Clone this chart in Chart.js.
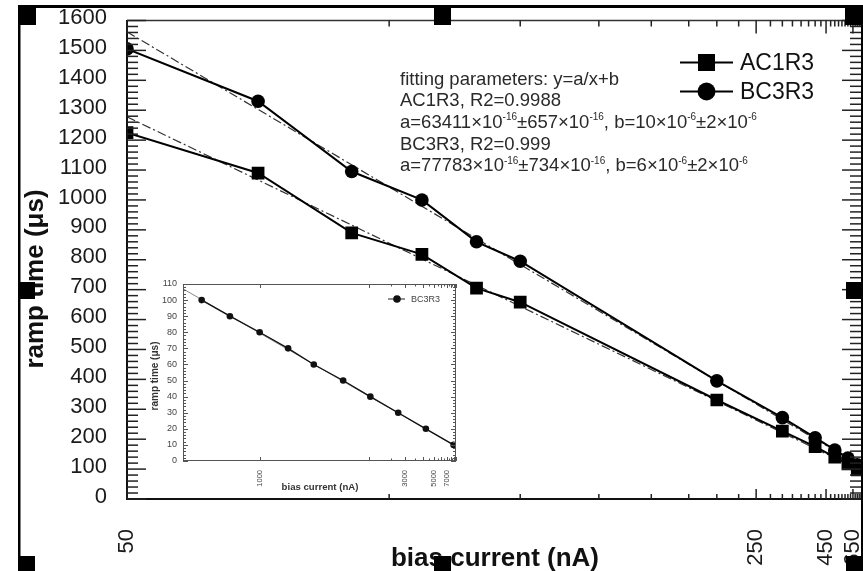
<!DOCTYPE html>
<html><head><meta charset="utf-8">
<script src="https://cdn.jsdelivr.net/npm/chart.js@4.4.0/dist/chart.umd.min.js"></script>
<style>
html,body{margin:0;padding:0;background:#fff;}
#wrap{position:relative;width:863px;height:571px;overflow:hidden;background:#fff;}
#main{position:absolute;left:0;top:0;}
#inset{position:absolute;left:140px;top:270px;}
</style></head><body>
<div id="wrap"><canvas id="main" width="863" height="571"></canvas><canvas id="inset" width="330" height="230"></canvas></div>
<script>
// ---------- data ----------
const biasCurrent = [50, 60, 70, 80, 90, 100, 200, 300, 400, 500, 600, 700];
const rampAC1R3   = [1225, 1090, 890, 818, 705, 658, 331, 227, 175, 140, 117, 97];
const rampBC3R3   = [1505, 1330, 1095, 1000, 860, 795, 395, 272, 205, 164, 137, 114];
const fitCurrent  = [50, 750];
const fitAC1R3    = [1278, 95];
const fitBC3R3    = [1562, 110];
const xTickLabels = [50, 250, 450, 650];
const yTickLabels = [0, 100, 200, 300, 400, 500, 600, 700, 800, 900, 1000, 1100, 1200, 1300, 1400, 1500, 1600];

const insetCurrent = [790, 880, 1000, 1150, 1330, 1620, 2030, 2740, 4200, 9000];
const insetRamp    = [100, 90, 80, 70, 60, 50, 40, 30, 20, 10];
const insetFitCurrent = [740, 10000];
const insetFitRamp    = [107, 9];
const insetXTickLabels = [1000, 3000, 5000, 7000];

const FONT = "'Liberation Sans', Arial, sans-serif";

// ---------- reciprocal (1/x) scale ----------
const LinearScale = Chart.LinearScale || Chart.registry.getScale('linear');
class ReciprocalScale extends LinearScale {
  buildTicks() { return []; }
  getPixelForValue(value) {
    if (value === null || value === undefined) return NaN;
    const a = 1 / this.min, b = 1 / this.max;
    return this.getPixelForDecimal((a - 1 / value) / (a - b));
  }
  getValueForPixel(pixel) {
    const a = 1 / this.min, b = 1 / this.max;
    const t = this.getDecimalForPixel(pixel);
    return 1 / (a - t * (a - b));
  }
}
ReciprocalScale.id = 'reciprocal';
ReciprocalScale.defaults = {};
Chart.register(ReciprocalScale);

function line(ctx, x1, y1, x2, y2) { ctx.beginPath(); ctx.moveTo(x1, y1); ctx.lineTo(x2, y2); ctx.stroke(); }

function drawRich(ctx, x, y, parts, size, supSize) {
  let cx = x;
  ctx.textBaseline = 'alphabetic';
  ctx.textAlign = 'left';
  for (const [txt, sup] of parts) {
    ctx.font = (sup ? supSize : size) + 'px ' + FONT;
    ctx.fillText(txt, cx, sup ? y - size * 0.42 : y);
    cx += ctx.measureText(txt).width;
  }
}

// ---------- main chart decorations ----------
const mainDeco = {
  id: 'mainDeco',
  beforeDraw(chart) {
    const ctx = chart.ctx;
    ctx.save(); ctx.fillStyle = '#fff'; ctx.fillRect(0, 0, chart.width, chart.height); ctx.restore();
  },
  afterDraw(chart) {
    const { ctx, chartArea: ca, scales: { x, y } } = chart;
    ctx.save();
    // plot box
    ctx.strokeStyle = '#333'; ctx.lineWidth = 1.5;
    line(ctx, ca.left, ca.top, ca.right, ca.top);
    ctx.strokeStyle = '#111'; ctx.lineWidth = 2;
    line(ctx, ca.left, ca.top - 0.5, ca.left, ca.bottom + 1);
    line(ctx, ca.left - 1, ca.bottom, ca.right, ca.bottom);
    // y ticks (inward), left and right
    ctx.lineWidth = 1.5; ctx.strokeStyle = '#222';
    for (let v = 0; v <= 1600; v += 20) {
      const py = y.getPixelForValue(v);
      const len = (v % 100 === 0) ? 19 : 11;
      line(ctx, ca.left, py, ca.left + len, py);
      line(ctx, ca.right, py, ca.right - len, py);
    }
    // x ticks (inward), bottom and top
    for (let v = 50; v <= 750; v += 25) {
      const px = x.getPixelForValue(v);
      const major = xTickLabels.includes(v);
      line(ctx, px, ca.bottom, px, ca.bottom - (major ? 10 : 5));
      line(ctx, px, ca.top, px, ca.top + (major ? 13 : 6));
    }
    // axis titles
    ctx.fillStyle = '#111';
    ctx.font = 'bold 26px ' + FONT;
    ctx.textAlign = 'center'; ctx.textBaseline = 'alphabetic';
    ctx.fillText('bias current (nA)', 495, 566);
    ctx.save(); ctx.translate(43, 279); ctx.rotate(-Math.PI / 2);
    ctx.fillText('ramp time (\u03bcs)', 0, 0); ctx.restore();
    // fitting annotation
    ctx.fillStyle = '#2a2a2a';
    const L0 = 84.5, dL = 21.7, tx = 400, fs = 18.5, ss = 10;
    drawRich(ctx, tx, L0, [['fitting parameters: y=a/x+b']], fs, ss);
    drawRich(ctx, tx, L0 + dL, [['AC1R3, R2=0.9988']], fs, ss);
    drawRich(ctx, tx, L0 + 2 * dL, [['a=63411\u00d710'], ['-16', 1], ['\u00b1657\u00d710'], ['-16', 1], [', b=10\u00d710'], ['-6', 1], ['\u00b12\u00d710'], ['-6', 1]], fs, ss);
    drawRich(ctx, tx, L0 + 3 * dL, [['BC3R3, R2=0.999']], fs, ss);
    drawRich(ctx, tx, L0 + 4 * dL, [['a=77783\u00d710'], ['-16', 1], ['\u00b1734\u00d710'], ['-16', 1], [', b=6\u00d710'], ['-6', 1], ['\u00b12\u00d710'], ['-6', 1]], fs, ss);
    // legend
    ctx.strokeStyle = '#000'; ctx.fillStyle = '#000'; ctx.lineWidth = 2;
    line(ctx, 680, 62.5, 733, 62.5);
    ctx.fillRect(706.5 - 8.5, 62.5 - 8.5, 17, 17);
    line(ctx, 680, 91.5, 733, 91.5);
    ctx.beginPath(); ctx.arc(706.5, 91.5, 9, 0, Math.PI * 2); ctx.fill();
    ctx.fillStyle = '#111';
    ctx.font = '23px ' + FONT; ctx.textAlign = 'left'; ctx.textBaseline = 'middle';
    ctx.fillText('AC1R3', 740, 63.5);
    ctx.fillText('BC3R3', 740, 92.5);
    // outer frame and handles
    ctx.fillStyle = '#000';
    ctx.fillRect(18, 5, 845, 3);
    ctx.fillRect(18, 5, 2.5, 566);
    ctx.fillRect(861, 5, 2, 566);
    const handles = [[18, 6, 18, 19], [434, 6, 17, 19], [845, 6, 18, 19], [18, 282, 17, 17], [846, 282, 17, 17], [18, 556, 17, 15], [434, 556, 17, 15], [846, 556, 17, 15]];
    for (const h of handles) ctx.fillRect(h[0], h[1], h[2], h[3]);
    ctx.restore();
  }
};

const markClip = { left: 0, top: 8, right: 8, bottom: 8 };

new Chart(document.getElementById('main'), {
  type: 'line',
  data: {
    datasets: [
      { label: 'AC1R3', data: biasCurrent.map((v, i) => ({ x: v, y: rampAC1R3[i] })), clip: markClip,
        borderColor: '#000', backgroundColor: '#000', borderWidth: 2, pointStyle: 'rect', pointRadius: 9, pointBorderWidth: 0, tension: 0 },
      { label: 'BC3R3', data: biasCurrent.map((v, i) => ({ x: v, y: rampBC3R3[i] })), clip: markClip,
        borderColor: '#000', backgroundColor: '#000', borderWidth: 2, pointStyle: 'circle', pointRadius: 6.8, pointBorderWidth: 0, tension: 0 },
      { label: 'fit AC1R3', data: fitCurrent.map((v, i) => ({ x: v, y: fitAC1R3[i] })),
        borderColor: '#333', borderWidth: 1.2, borderDash: [9, 3, 2, 3], pointRadius: 0, tension: 0 },
      { label: 'fit BC3R3', data: fitCurrent.map((v, i) => ({ x: v, y: fitBC3R3[i] })),
        borderColor: '#333', borderWidth: 1.2, borderDash: [9, 3, 2, 3], pointRadius: 0, tension: 0 }
    ]
  },
  options: {
    responsive: false, animation: false, devicePixelRatio: 1, events: [],
    layout: { padding: { left: 0, top: 20.5, right: 2, bottom: 0 }, autoPadding: false },
    plugins: { legend: { display: false }, tooltip: { enabled: false } },
    scales: {
      x: {
        type: 'reciprocal', position: 'bottom', min: 50, max: 750,
        grid: { display: false, drawTicks: false }, border: { display: false },
        afterBuildTicks: (s) => { s.ticks = xTickLabels.map(v => ({ value: v })); },
        ticks: { autoSkip: false, minRotation: 90, maxRotation: 90, padding: 30, color: '#1a1a1a',
                 font: { family: FONT, size: 22 }, callback: (v) => String(v) },
        afterFit: (s) => { s.height = 72; s.paddingLeft = 0; s.paddingRight = 0; }
      },
      y: {
        type: 'linear', position: 'left', min: 0, max: 1600,
        grid: { display: false, drawTicks: false }, border: { display: false },
        afterBuildTicks: (s) => { s.ticks = yTickLabels.map(v => ({ value: v })); },
        ticks: { autoSkip: false, padding: 20, labelOffset: -2.5, color: '#1a1a1a',
                 font: { family: FONT, size: 22 }, callback: (v) => String(v) },
        afterFit: (s) => { s.width = 127; s.paddingTop = 0; s.paddingBottom = 0; }
      }
    }
  },
  plugins: [mainDeco]
});

// ---------- inset chart ----------
const insetDeco = {
  id: 'insetDeco',
  beforeDatasetsDraw(chart) {
    const { ctx, chartArea: ca } = chart;
    ctx.save(); ctx.fillStyle = '#fff'; ctx.fillRect(ca.left, ca.top, ca.right - ca.left, ca.bottom - ca.top); ctx.restore();
  },
  afterDraw(chart) {
    const { ctx, chartArea: ca, scales: { x, y } } = chart;
    ctx.save();
    ctx.strokeStyle = '#555'; ctx.lineWidth = 1;
    ctx.strokeRect(ca.left + 0.5, ca.top + 0.5, ca.right - ca.left - 1, ca.bottom - ca.top - 1);
    for (let v = 0; v <= 110; v += 2) {
      const py = Math.round(y.getPixelForValue(v)) + 0.5;
      const len = (v % 10 === 0) ? 5 : 3;
      line(ctx, ca.left, py, ca.left + len, py);
      line(ctx, ca.right, py, ca.right - len, py);
    }
    for (let v = 1000; v <= 10000; v += 500) {
      if (v < 2500 && v % 1000 !== 0) continue;
      const px = Math.round(x.getPixelForValue(v)) + 0.5;
      const len = (v % 1000 === 0) ? 4 : 2.5;
      line(ctx, px, ca.bottom, px, ca.bottom - len);
      line(ctx, px, ca.top, px, ca.top + len);
    }
    // titles
    ctx.fillStyle = '#333';
    ctx.font = 'bold 9.6px ' + FONT; ctx.textAlign = 'center'; ctx.textBaseline = 'middle';
    ctx.fillText('bias current (nA)', 180, 217);
    ctx.save(); ctx.translate(15, 106); ctx.rotate(-Math.PI / 2);
    ctx.font = 'bold 10px ' + FONT;
    ctx.fillText('ramp time (\u03bcs)', 0, 0); ctx.restore();
    // legend
    ctx.strokeStyle = '#222'; ctx.fillStyle = '#111'; ctx.lineWidth = 1;
    line(ctx, 248, 29, 265, 29);
    ctx.beginPath(); ctx.arc(257, 29, 3.8, 0, Math.PI * 2); ctx.fill();
    ctx.fillStyle = '#444'; ctx.font = '9px ' + FONT; ctx.textAlign = 'left';
    ctx.fillText('BC3R3', 271, 29.5);
    ctx.restore();
  }
};

new Chart(document.getElementById('inset'), {
  type: 'line',
  data: {
    datasets: [
      { label: 'BC3R3', data: insetCurrent.map((v, i) => ({ x: v, y: insetRamp[i] })),
        borderColor: '#111', backgroundColor: '#111', borderWidth: 1.3, pointRadius: 3.3, pointBorderWidth: 0, tension: 0 },
      { label: 'fit', data: insetFitCurrent.map((v, i) => ({ x: v, y: insetFitRamp[i] })),
        borderColor: '#888', borderWidth: 1, pointRadius: 0, tension: 0 }
    ]
  },
  options: {
    responsive: false, animation: false, devicePixelRatio: 1, events: [],
    layout: { padding: { left: 0, top: 14, right: 14, bottom: 0 }, autoPadding: false },
    plugins: { legend: { display: false }, tooltip: { enabled: false } },
    scales: {
      x: {
        type: 'reciprocal', position: 'bottom', min: 740, max: 10000,
        grid: { display: false, drawTicks: false }, border: { display: false },
        afterBuildTicks: (s) => { s.ticks = insetXTickLabels.map(v => ({ value: v })); },
        ticks: { autoSkip: false, minRotation: 90, maxRotation: 90, padding: 9, color: '#444',
                 font: { family: FONT, size: 7.5 }, callback: (v) => String(v) },
        afterFit: (s) => { s.height = 39; s.paddingLeft = 0; s.paddingRight = 0; }
      },
      y: {
        type: 'linear', position: 'left', min: 0, max: 110,
        grid: { display: false, drawTicks: false }, border: { display: false },
        ticks: { stepSize: 10, autoSkip: false, padding: 6, color: '#444',
                 font: { family: FONT, size: 9 }, callback: (v) => String(v) },
        afterFit: (s) => { s.width = 43; s.paddingTop = 0; s.paddingBottom = 0; }
      }
    }
  },
  plugins: [insetDeco]
});
</script>
</body></html>
